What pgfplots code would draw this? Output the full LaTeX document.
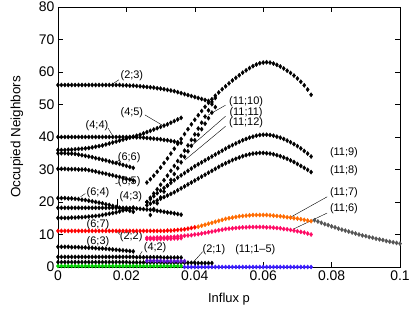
\documentclass[border=0pt]{standalone}
\usepackage{fontspec}
\setmainfont{Liberation Sans}
\usepackage{pgfplots}
\pgfplotsset{compat=1.18}
\definecolor{cred}{HTML}{FF0000}
\definecolor{corange}{HTML}{FF6A00}
\definecolor{cpink}{HTML}{FF0A64}
\definecolor{cblue}{HTML}{3A1CFF}
\definecolor{cpurple}{HTML}{5A10D0}
\definecolor{cgreen}{HTML}{00D000}
\definecolor{cgray}{HTML}{555555}
\begin{document}
\begin{tikzpicture}
\path[use as bounding box] (-58bp,-42bp) rectangle (357bp,267bp);
\begin{axis}[
 at={(0,0)}, anchor=south west,
 width=342bp, height=260bp, scale only axis,
 xmin=0, xmax=0.1, ymin=0, ymax=80,
 xtick={0,0.02,0.04,0.06,0.08,0.1},
 xticklabels={0,0.02,0.04,0.06,0.08,0.1},
 scaled x ticks=false,
 ytick={0,10,...,80},
 tick align=inside, major tick length=5bp,
 ticklabel style={font=\fontsize{14}{16}\selectfont},
 xlabel={Influx p}, ylabel={Occupied Neighbors},
 x label style={font=\fontsize{13}{15}\selectfont, at={(axis description cs:0.5,-0.125)},anchor=center},
 y label style={font=\fontsize{13.5}{15}\selectfont, at={(axis description cs:-0.12,0.5)},anchor=center},
 clip=false,
 axis line style={line width=0.6bp},
 every tick/.style={black, line width=0.5bp},
 /pgf/number format/assume math mode=true,
 blk/.style={only marks, mark=diamond*, mark size=2.1bp, black},
 col/.style={only marks, mark=diamond*, mark size=2.1bp, #1, mark options={fill=#1, draw=#1}},
]
% (2;3)
\addplot[blk] coordinates {(0,56)(0.001,56)(0.002,56)(0.003,56)(0.004,56)(0.005,56)(0.006,56)(0.007,56)(0.008,56)(0.009,56)(0.010,56)(0.011,56)(0.012,56)(0.013,56)(0.014,56)(0.015,56)(0.016,56)(0.017,56)(0.018,56)(0.019,55.9)(0.020,55.9)(0.021,55.8)(0.022,55.8)(0.023,55.7)(0.024,55.6)(0.025,55.5)(0.026,55.4)(0.027,55.3)(0.028,55.2)(0.029,55.0)(0.030,54.9)(0.031,54.7)(0.032,54.5)(0.033,54.3)(0.034,54.1)(0.035,53.8)(0.036,53.5)(0.037,53.2)(0.038,52.9)(0.039,52.6)(0.040,52.3)(0.041,52.0)(0.042,51.7)(0.043,51.4)(0.044,51.1)(0.045,50.8)};
% (4;4)
\addplot[blk] coordinates {(0,40)(0.001,40)(0.002,40)(0.003,40)(0.004,40)(0.005,40)(0.006,40)(0.007,40)(0.008,40)(0.009,40)(0.010,40)(0.011,40)(0.012,40)(0.013,40)(0.014,40)(0.015,40)(0.016,40)(0.017,40)(0.018,40)(0.019,40)(0.020,40)(0.021,40)(0.022,40)(0.023,39.9)(0.024,39.9)(0.025,39.8)(0.026,39.7)(0.027,39.6)(0.028,39.5)(0.029,39.4)(0.030,39.3)(0.031,39.1)(0.032,39.0)(0.033,38.8)(0.034,38.6)(0.035,38.4)(0.036,38.2)};
% (4;5)
\addplot[blk] coordinates {(0,36.0)(0.001,36.0)(0.002,36.0)(0.003,36.1)(0.004,36.1)(0.005,36.2)(0.006,36.3)(0.007,36.4)(0.008,36.5)(0.009,36.6)(0.010,36.8)(0.011,37.0)(0.012,37.2)(0.013,37.4)(0.014,37.7)(0.015,38.0)(0.016,38.3)(0.017,38.6)(0.018,38.9)(0.019,39.2)(0.020,39.5)(0.021,39.8)(0.022,40.1)(0.023,40.4)(0.024,40.7)(0.025,41.1)(0.026,41.5)(0.027,41.9)(0.028,42.3)(0.029,42.7)(0.030,43.1)(0.031,43.5)(0.032,43.9)(0.033,44.4)(0.034,44.9)(0.035,45.4)(0.036,45.9)};
% (6;6)
\addplot[blk] coordinates {(0,35.0)(0.001,35.0)(0.002,35.0)(0.003,34.9)(0.004,34.9)(0.005,34.8)(0.006,34.6)(0.007,34.4)(0.008,34.2)(0.009,34.0)(0.010,33.8)(0.011,33.5)(0.012,33.3)(0.013,33.0)(0.014,32.8)(0.015,32.5)(0.016,32.2)(0.017,32.0)(0.018,31.7)(0.019,31.4)(0.020,31.1)(0.021,30.8)(0.022,30.5)};
% (6;5)
\addplot[blk] coordinates {(0,30.2)(0.001,30.2)(0.002,30.2)(0.003,30.1)(0.004,30.1)(0.005,30.1)(0.006,30.0)(0.007,30.0)(0.008,30.0)(0.009,29.8)(0.010,29.6)(0.011,29.4)(0.012,29.1)(0.013,28.9)(0.014,28.7)(0.015,28.4)(0.016,28.2)(0.017,27.9)(0.018,27.7)(0.019,27.4)(0.020,27.1)(0.021,26.9)(0.022,26.6)};
% (6;4)
\addplot[blk] coordinates {(0,21.2)(0.001,21.2)(0.002,21.2)(0.003,21.1)(0.004,21.1)(0.005,21.0)(0.006,20.9)(0.007,20.7)(0.008,20.6)(0.009,20.4)(0.010,20.2)(0.011,20.0)(0.012,19.8)(0.013,19.6)(0.014,19.3)(0.015,19.1)(0.016,18.8)(0.017,18.5)(0.018,18.2)(0.019,17.9)(0.020,17.6)(0.021,17.3)(0.022,17.0)};
% (4;3)
\addplot[blk] coordinates {(0,18.2)(0.001,18.2)(0.002,18.2)(0.003,18.2)(0.004,18.2)(0.005,18.2)(0.006,18.2)(0.007,18.2)(0.008,18.2)(0.009,18.2)(0.010,18.2)(0.011,18.2)(0.012,18.2)(0.013,18.2)(0.014,18.2)(0.015,18.2)(0.016,18.2)(0.017,18.2)(0.018,18.2)(0.019,18.2)(0.020,18.2)(0.021,18.1)(0.022,18.1)(0.023,18.0)(0.024,17.9)(0.025,17.8)(0.026,17.7)(0.027,17.6)(0.028,17.5)(0.029,17.3)(0.030,17.2)(0.031,17.0)(0.032,16.8)(0.033,16.7)(0.034,16.5)(0.035,16.3)(0.036,16.1)};
% rising 15 -> 18
\addplot[blk] coordinates {(0,15.1)(0.001,15.1)(0.002,15.1)(0.003,15.1)(0.004,15.2)(0.005,15.2)(0.006,15.3)(0.007,15.3)(0.008,15.4)(0.009,15.5)(0.010,15.6)(0.011,15.7)(0.012,15.8)(0.013,16.0)(0.014,16.2)(0.015,16.4)(0.016,16.6)(0.017,16.8)(0.018,17.1)(0.019,17.4)(0.020,17.7)(0.021,18.0)(0.022,18.3)};
% (6;3)
\addplot[blk] coordinates {(0,6.2)(0.001,6.2)(0.002,6.2)(0.003,6.2)(0.004,6.1)(0.005,6.1)(0.006,6.1)(0.007,6.0)(0.008,6.0)(0.009,5.9)(0.010,5.9)(0.011,5.8)(0.012,5.7)(0.013,5.7)(0.014,5.6)(0.015,5.5)(0.016,5.4)(0.017,5.3)(0.018,5.2)(0.019,5.1)(0.020,5.0)(0.021,4.9)(0.022,4.8)};
% (4;2)
\addplot[blk] coordinates {(0,3.1)(0.001,3.1)(0.002,3.1)(0.003,3.1)(0.004,3.1)(0.005,3.1)(0.006,3.1)(0.007,3.1)(0.008,3.1)(0.009,3.1)(0.010,3.1)(0.011,3.1)(0.012,3.1)(0.013,3.1)(0.014,3.1)(0.015,3.1)(0.016,3.1)(0.017,3.1)(0.018,3.1)(0.019,3.1)(0.020,3.1)(0.021,3.1)(0.022,3.1)(0.023,3.0)(0.024,3.0)(0.025,3.0)(0.026,3.0)(0.027,3.0)(0.028,3.0)(0.029,3.0)(0.030,3.0)(0.031,2.9)(0.032,2.9)(0.033,2.9)(0.034,2.9)(0.035,2.9)(0.036,2.9)};
% (2;1)
\addplot[blk] coordinates {(0,1.5)(0.001,1.5)(0.002,1.5)(0.003,1.5)(0.004,1.5)(0.005,1.5)(0.006,1.5)(0.007,1.5)(0.008,1.5)(0.009,1.5)(0.010,1.5)(0.011,1.5)(0.012,1.5)(0.013,1.5)(0.014,1.5)(0.015,1.5)(0.016,1.5)(0.017,1.5)(0.018,1.5)(0.019,1.5)(0.020,1.5)(0.021,1.4)(0.022,1.4)(0.023,1.4)(0.024,1.4)(0.025,1.4)(0.026,1.4)(0.027,1.4)(0.028,1.4)(0.029,1.4)(0.030,1.4)(0.031,1.3)(0.032,1.3)(0.033,1.3)(0.034,1.3)(0.035,1.3)(0.036,1.3)(0.037,1.3)(0.038,1.3)(0.039,1.3)(0.040,1.3)(0.041,1.2)(0.042,1.2)(0.043,1.2)(0.044,1.2)(0.045,1.2)};
% green
\addplot[col=cgreen] coordinates {(0,0.3)(0.001,0.3)(0.002,0.3)(0.003,0.3)(0.004,0.3)(0.005,0.3)(0.006,0.3)(0.007,0.3)(0.008,0.3)(0.009,0.3)(0.010,0.3)(0.011,0.3)(0.012,0.3)(0.013,0.3)(0.014,0.3)(0.015,0.3)(0.016,0.3)(0.017,0.3)(0.018,0.3)(0.019,0.3)(0.020,0.3)(0.021,0.3)(0.022,0.3)(0.023,0.3)(0.024,0.3)(0.025,0.3)(0.026,0.3)(0.027,0.3)(0.028,0.3)(0.029,0.3)(0.030,0.3)(0.031,0.3)(0.032,0.3)(0.033,0.3)(0.034,0.3)(0.035,0.3)(0.036,0.3)};
% (11;1-5)
\addplot[col=cblue] coordinates {(0.037,0)(0.038,0)(0.039,0)(0.040,0)(0.041,0)(0.042,0)(0.043,0)(0.044,0)(0.045,0)(0.046,0)(0.047,0)(0.048,0)(0.049,0)(0.050,0)(0.051,0)(0.052,0)(0.053,0)(0.054,0)(0.055,0)(0.056,0)(0.057,0)(0.058,0)(0.059,0)(0.060,0)(0.061,0)(0.062,0)(0.063,0)(0.064,0)(0.065,0)(0.066,0)(0.067,0)(0.068,0)(0.069,0)(0.070,0)(0.071,0)(0.072,0)(0.073,0)(0.074,0)};
% purple short
\addplot[col=cpurple] coordinates {(0.026,1.9)(0.027,1.9)(0.028,1.9)(0.029,1.9)(0.030,1.9)(0.031,1.8)(0.032,1.8)(0.033,1.8)(0.034,1.8)(0.035,1.8)(0.036,1.8)(0.037,1.8)};
% pink short
\addplot[col=cpink] coordinates {(0.026,8.6)(0.027,8.6)(0.028,8.6)(0.029,8.6)(0.030,8.6)(0.031,8.7)(0.032,8.7)(0.033,8.7)(0.034,8.8)(0.035,8.8)(0.036,8.9)};
% (11;6)
\addplot[col=cpink] coordinates {(0.026,9.0)(0.027,9.0)(0.028,9.0)(0.029,9.1)(0.030,9.1)(0.031,9.1)(0.032,9.2)(0.033,9.2)(0.034,9.3)(0.035,9.4)(0.036,9.5)(0.037,9.6)(0.038,9.7)(0.039,9.8)(0.040,10.0)(0.041,10.1)(0.042,10.3)(0.043,10.5)(0.044,10.7)(0.045,10.9)(0.046,11.1)(0.047,11.3)(0.048,11.5)(0.049,11.7)(0.050,11.8)(0.051,11.9)(0.052,12.0)(0.053,12.1)(0.054,12.2)(0.055,12.2)(0.056,12.3)(0.057,12.3)(0.058,12.3)(0.059,12.3)(0.060,12.3)(0.061,12.2)(0.062,12.2)(0.063,12.1)(0.064,12.0)(0.065,11.9)(0.066,11.7)(0.067,11.6)(0.068,11.4)(0.069,11.2)(0.070,11.0)(0.071,10.8)(0.072,10.6)(0.073,10.3)(0.074,10.0)};
% red
\addplot[col=cred] coordinates {(0,11.1)(0.001,11.1)(0.002,11.1)(0.003,11.1)(0.004,11.1)(0.005,11.1)(0.006,11.1)(0.007,11.1)(0.008,11.1)(0.009,11.1)(0.010,11.1)(0.011,11.1)(0.012,11.1)(0.013,11.1)(0.014,11.1)(0.015,11.1)(0.016,11.1)(0.017,11.1)(0.018,11.1)(0.019,11.1)(0.020,11.1)(0.021,11.1)(0.022,11.1)(0.023,11.1)(0.024,11.1)(0.025,11.1)(0.026,11.1)(0.027,11.1)(0.028,11.1)(0.029,11.1)(0.030,11.1)(0.031,11.1)(0.032,11.2)(0.033,11.2)(0.034,11.3)(0.035,11.4)(0.036,11.5)(0.037,11.6)(0.038,11.8)(0.039,12.0)(0.040,12.2)};
% (11;7)
\addplot[col=corange] coordinates {(0.041,12.4)(0.042,12.7)(0.043,13.0)(0.044,13.3)(0.045,13.6)(0.046,13.9)(0.047,14.2)(0.048,14.5)(0.049,14.8)(0.050,15.0)(0.051,15.2)(0.052,15.4)(0.053,15.6)(0.054,15.7)(0.055,15.8)(0.056,15.9)(0.057,16.0)(0.058,16.0)(0.059,16.0)(0.060,16.0)(0.061,16.0)(0.062,15.9)(0.063,15.8)(0.064,15.7)(0.065,15.6)(0.066,15.5)(0.067,15.3)(0.068,15.2)(0.069,15.0)(0.070,14.9)(0.071,14.7)(0.072,14.5)(0.073,14.3)(0.074,14.1)};
% gray tail
\addplot[col=cgray] coordinates {(0.075,14.4)(0.076,14.0)(0.077,13.6)(0.078,13.2)(0.079,12.9)(0.080,12.5)(0.081,12.2)(0.082,11.8)(0.083,11.5)(0.084,11.2)(0.085,10.9)(0.086,10.6)(0.087,10.3)(0.088,10.0)(0.089,9.7)(0.090,9.5)(0.091,9.2)(0.092,9.0)(0.093,8.7)(0.094,8.5)(0.095,8.3)(0.096,8.0)(0.097,7.8)(0.098,7.6)(0.099,7.4)(0.100,7.2)};
% (11;8)
\addplot[blk] coordinates {(0.026,19.0)(0.027,19.5)(0.028,20.0)(0.029,20.5)(0.030,21.0)(0.031,21.5)(0.032,22.0)(0.033,22.5)(0.034,23.0)(0.035,23.6)(0.036,24.2)(0.037,24.8)(0.038,25.4)(0.039,26.0)(0.040,26.6)(0.041,27.2)(0.042,27.8)(0.043,28.4)(0.044,29.0)(0.045,29.6)(0.046,30.2)(0.047,30.8)(0.048,31.4)(0.049,31.9)(0.050,32.4)(0.051,32.9)(0.052,33.3)(0.053,33.7)(0.054,34.1)(0.055,34.4)(0.056,34.7)(0.057,34.9)(0.058,35.0)(0.059,35.1)(0.060,35.1)(0.061,35.0)(0.062,34.9)(0.063,34.7)(0.064,34.4)(0.065,34.1)(0.066,33.7)(0.067,33.3)(0.068,32.8)(0.069,32.3)(0.070,31.7)(0.071,31.1)(0.072,30.5)(0.073,29.9)(0.074,29.2)};
% (11;9)
\addplot[blk] coordinates {(0.026,20.0)(0.027,20.9)(0.028,21.8)(0.029,22.7)(0.030,23.5)(0.031,24.3)(0.032,25.1)(0.033,25.9)(0.034,26.7)(0.035,27.5)(0.036,28.2)(0.037,28.9)(0.038,29.6)(0.039,30.3)(0.040,31.0)(0.041,31.6)(0.042,32.2)(0.043,32.8)(0.044,33.4)(0.045,34.0)(0.046,34.6)(0.047,35.2)(0.048,35.8)(0.049,36.4)(0.050,37.0)(0.051,37.5)(0.052,38.0)(0.053,38.5)(0.054,39.0)(0.055,39.4)(0.056,39.8)(0.057,40.1)(0.058,40.4)(0.059,40.6)(0.060,40.7)(0.061,40.7)(0.062,40.6)(0.063,40.4)(0.064,40.1)(0.065,39.8)(0.066,39.4)(0.067,38.9)(0.068,38.4)(0.069,37.8)(0.070,37.2)(0.071,36.5)(0.072,35.7)(0.073,34.9)(0.074,34.0)};
% (11;12)
\addplot[blk] coordinates {(0.027,16.0)(0.028,17.8)(0.029,19.6)(0.030,21.4)(0.031,23.2)(0.032,25.0)(0.033,26.8)(0.034,28.6)(0.035,30.4)(0.036,32.2)(0.037,33.9)(0.038,35.6)(0.039,37.3)(0.040,39.0)(0.041,40.7)(0.042,42.4)(0.043,44.1)(0.044,45.8)(0.045,47.5)(0.046,49.2)};
% (11;11)
\addplot[blk] coordinates {(0.026,20.0)(0.027,21.3)(0.028,22.6)(0.029,23.9)(0.030,25.3)(0.031,26.7)(0.032,28.1)(0.033,29.6)(0.034,31.1)(0.035,32.6)(0.036,34.2)(0.037,35.8)(0.038,37.4)(0.039,39.1)(0.040,40.8)(0.041,42.6)(0.042,44.4)(0.043,46.3)(0.044,48.2)(0.045,50.1)(0.046,52.0)};
% (11;10)
\addplot[blk] coordinates {(0.026,26.0)(0.027,27.0)(0.028,28.1)(0.029,29.3)(0.030,30.6)(0.031,32.0)(0.032,33.4)(0.033,34.9)(0.034,36.4)(0.035,37.9)(0.036,39.4)(0.037,40.9)(0.038,42.4)(0.039,43.9)(0.040,45.3)(0.041,46.7)(0.042,48.0)(0.043,49.3)(0.044,50.5)(0.045,51.6)(0.046,52.7)(0.047,53.7)(0.048,54.7)(0.049,55.6)(0.050,56.5)(0.051,57.4)(0.052,58.2)(0.053,59.0)(0.054,59.8)(0.055,60.5)(0.056,61.2)(0.057,61.8)(0.058,62.3)(0.059,62.7)(0.060,62.9)(0.061,63.0)(0.062,62.9)(0.063,62.6)(0.064,62.2)(0.065,61.7)(0.066,61.1)(0.067,60.4)(0.068,59.7)(0.069,58.9)(0.070,58.0)(0.071,57.0)(0.072,55.9)(0.073,54.6)(0.074,53.0)};

% labels
\begin{scope}[every node/.style={font=\fontsize{11}{13}\selectfont, inner sep=0pt}]
\node at (axis cs:0.0216,59.0) {(2;3)};
\draw[thin] (axis cs:0.0178,57.6) -- (axis cs:0.0161,56.4);
\node at (axis cs:0.0216,47.4) {(4;5)};
\draw[thin] (axis cs:0.0254,46.8) -- (axis cs:0.0304,43.7);
\node at (axis cs:0.0114,43.4) {(4;4)};
\draw[thin] (axis cs:0.0146,42.8) -- (axis cs:0.0161,40.2);
\node at (axis cs:0.0208,33.5) {(6;6)};
\draw[thin] (axis cs:0.0180,33.0) -- (axis cs:0.0163,31.6);
\node at (axis cs:0.0208,26.2) {(6;5)};
\draw[thin] (axis cs:0.0180,26.0) -- (axis cs:0.0168,25.6);
\node at (axis cs:0.0117,22.8) {(6;4)};
\draw[thin] (axis cs:0.0080,22.6) -- (axis cs:0.0066,21.6);
\node at (axis cs:0.0213,21.6) {(4;3)};
\draw[thin] (axis cs:0.0174,20.8) -- (axis cs:0.0174,18.4);
\node at (axis cs:0.0117,12.9) {(6;7)};
\node at (axis cs:0.0214,9.2) {(2;2)};
\draw[thin] (axis cs:0.0181,10.0) -- (axis cs:0.0172,11.0);
\node at (axis cs:0.0117,7.8) {(6;3)};
\node at (axis cs:0.0284,5.8) {(4;2)};
\draw[thin] (axis cs:0.0246,4.8) -- (axis cs:0.0236,3.2);
\node at (axis cs:0.0456,5.2) {(2;1)};
\draw[thin] (axis cs:0.0423,4.7) -- (axis cs:0.0395,1.4);
\node at (axis cs:0.0577,5.2) {(11;1--5)};
\node at (axis cs:0.0550,50.8) {(11;10)};
\draw[thin] (axis cs:0.0490,49.8) -- (axis cs:0.0440,46.8);
\node at (axis cs:0.0550,47.4) {(11;11)};
\draw[thin] (axis cs:0.0490,46.4) -- (axis cs:0.0386,36.9);
\node at (axis cs:0.0550,44.3) {(11;12)};
\draw[thin] (axis cs:0.0490,43.3) -- (axis cs:0.0371,32.9);
\node at (axis cs:0.0836,35.1) {(11;9)};
\node at (axis cs:0.0836,29.5) {(11;8)};
\node at (axis cs:0.0836,22.8) {(11;7)};
\draw[thin] (axis cs:0.0787,21.6) -- (axis cs:0.0678,15.2);
\node at (axis cs:0.0836,17.8) {(11;6)};
\draw[thin] (axis cs:0.0787,16.6) -- (axis cs:0.0687,11.6);
\end{scope}
\end{axis}
\end{tikzpicture}
\end{document}
